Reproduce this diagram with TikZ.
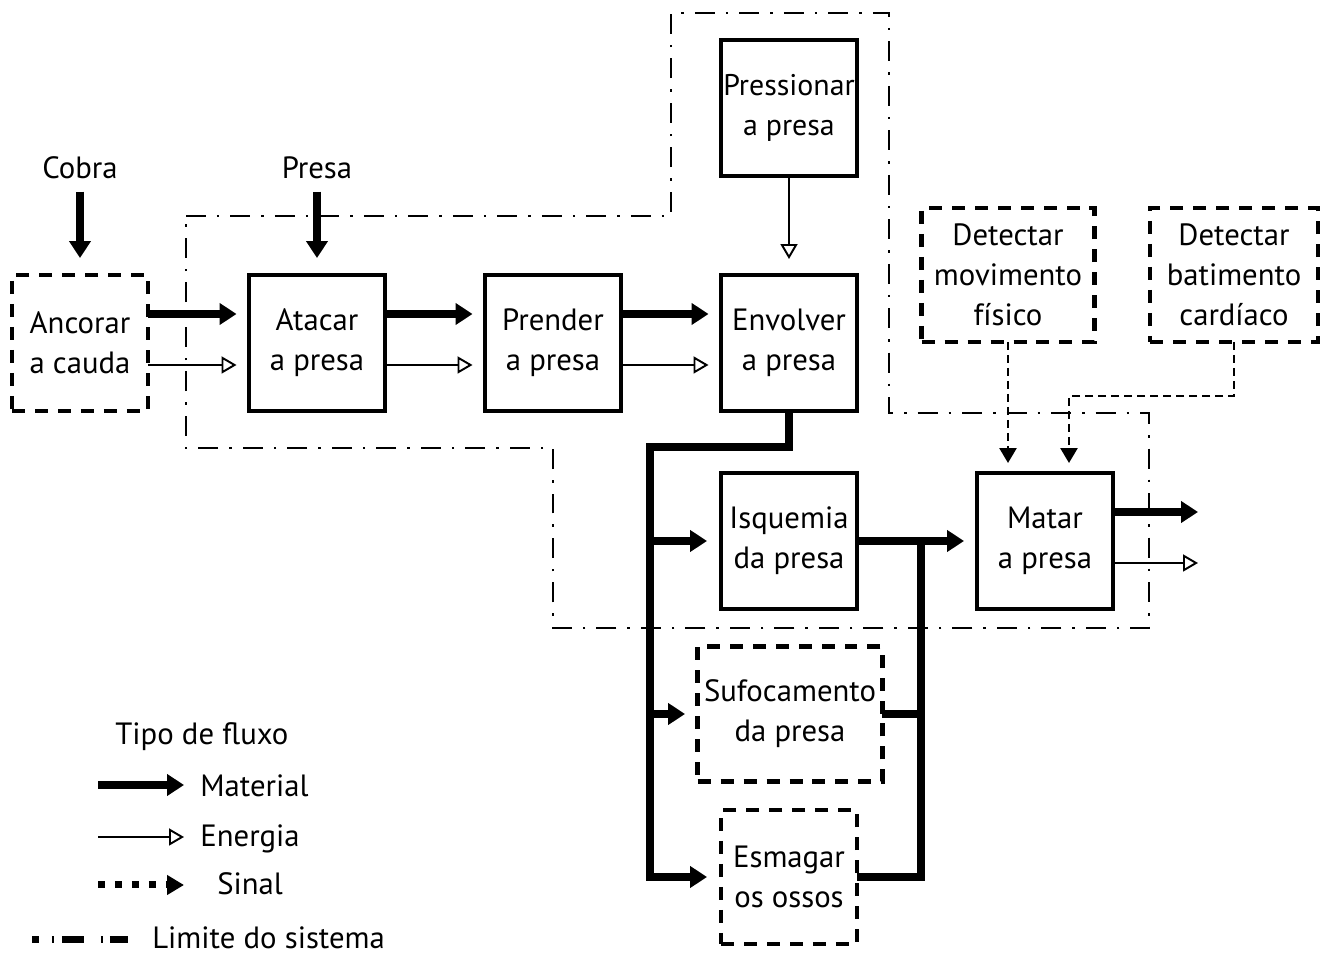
\documentclass[tikz,border=0pt]{standalone}
\usepackage{fontspec}
\setmainfont{PT Sans}
\usetikzlibrary{arrows.meta}

\begin{document}
\begin{tikzpicture}[x=0.02cm,y=-0.02cm, line join=miter,
  lbl/.style={font=\fontsize{17.5}{22.8}\selectfont, align=center, inner sep=0pt},
  fbox/.style={lbl, draw, line width=2.8pt, minimum width=2.72cm, minimum height=2.72cm, outer sep=0pt},
  dbox/.style={fbox, dash pattern=on 0.26cm off 0.2cm},
  mat/.style={line width=4.3pt, -{Triangle[length=0.34cm,width=0.42cm]}},
  matl/.style={line width=4.3pt},
  ene/.style={line width=1.1pt, -{Triangle[open,length=0.3cm,width=0.34cm]}},
  sig/.style={line width=1.5pt, dash pattern=on 0.16cm off 0.1cm, -{Triangle[length=0.3cm,width=0.34cm]}},
  lim/.style={line width=1.5pt, dash pattern=on 0.4cm off 0.22cm on 0.05cm off 0.22cm},
]
\useasboundingbox (0,0) rectangle (1323,955);

% system boundary
\draw[lim] (186,216) -- (671,216) -- (671,13) -- (889,13) -- (889,413) -- (1149,413)
  -- (1149,628) -- (553,628) -- (553,448) -- (186,448) -- cycle;

% functions
\node[dbox] (anc) at (80,343) {Ancorar\\a cauda};
\node[fbox] (ata) at (317,343) {Atacar\\a presa};
\node[fbox] (pre) at (553,343) {Prender\\a presa};
\node[fbox] (env) at (789,343) {Envolver\\a presa};
\node[fbox, font=\fontsize{17}{22.8}\selectfont] (prs) at (789,108) {Pressionar\\a presa};
\node[fbox] (isq) at (789,541) {Isquemia\\da presa};
\node[fbox] (mat) at (1045,541) {Matar\\a presa};
\node[dbox, minimum width=3.46cm, minimum height=2.68cm] (dmo) at (1008,275) {Detectar\\movimento\\físico};
\node[dbox, minimum width=3.36cm, minimum height=2.68cm] (dba) at (1234,275) {Detectar\\batimento\\cardíaco};
\node[dbox, minimum width=3.7cm, minimum height=2.7cm] (suf) at (790,714) {Sufocamento\\da presa};
\node[dbox, minimum height=2.68cm] (esm) at (789,877) {Esmagar\\os ossos};

% inputs
\node[lbl, anchor=base] (cob) at (80,179) {Cobra};
\node[lbl, anchor=base] (prl) at (317,179) {Presa};
\draw[mat, shorten <=0.24cm, shorten >=0.34cm] (cob.south) -- (anc.north);
\draw[mat, shorten <=0.24cm, shorten >=0.34cm] (prl.south) -- (ata.north);

% main chain
\draw[mat, shorten >=0.25cm] ([yshift=0.58cm]anc.east) -- ([yshift=0.58cm]ata.west);
\draw[ene, shorten >=0.25cm] ([yshift=-0.44cm]anc.east) -- ([yshift=-0.44cm]ata.west);
\draw[mat, shorten >=0.25cm] ([yshift=0.58cm]ata.east) -- ([yshift=0.58cm]pre.west);
\draw[ene, shorten >=0.25cm] ([yshift=-0.44cm]ata.east) -- ([yshift=-0.44cm]pre.west);
\draw[mat, shorten >=0.25cm] ([yshift=0.58cm]pre.east) -- ([yshift=0.58cm]env.west);
\draw[ene, shorten >=0.25cm] ([yshift=-0.44cm]pre.east) -- ([yshift=-0.44cm]env.west);
\draw[ene, shorten >=0.32cm] (prs.south) -- (env.north);

% branches after Envolver
\coordinate (bl) at (650,447);
\draw[mat, shorten >=0.28cm] (env.south) |- (bl) -- (bl |- esm.west) -- (esm.west);
\draw[mat, shorten >=0.28cm] (bl |- isq.west) -- (isq.west);
\draw[mat, shorten >=0.25cm] (bl |- suf.west) -- (suf.west);

% merge into Matar
\coordinate (br) at (921,541);
\draw[matl] (suf.east) -- (suf.east -| br);
\draw[matl] (esm.east) -| (br);
\draw[mat, shorten >=0.26cm] (isq.east) -- (mat.west);

% signals
\draw[sig, shorten >=0.2cm] (dmo.south) -- (dmo.south |- mat.north);
\coordinate (sc) at (1069,396);
\draw[sig, shorten >=0.2cm] (dba.south) |- (sc) -- (sc |- mat.north);

% outputs
\coordinate (o1) at (1198,512);
\coordinate (o2) at (1198,563);
\draw[mat] ([yshift=0.58cm]mat.east) -- (o1);
\draw[ene] ([yshift=-0.44cm]mat.east) -- (o2);

% legend
\node[lbl, anchor=base west] (leg) at (115,745) {Tipo de fluxo};
\coordinate (lm0) at (98,785); \coordinate (lm1) at (184,785);
\draw[mat] (lm0) -- (lm1);
\node[lbl, anchor=base west] (lgm) at (200,797) {Material};
\coordinate (le0) at (98,837); \coordinate (le1) at (184,837);
\draw[ene] (le0) -- (le1);
\node[lbl, anchor=base west] (lge) at (200,847) {Energia};
\coordinate (ls0) at (98,885); \coordinate (ls1) at (184,885);
\draw[line width=0.14cm, dash pattern=on 0.14cm off 0.2cm, -{Triangle[length=0.34cm,width=0.38cm]}] (ls0) -- (ls1);
\node[lbl, anchor=base west] (lgs) at (217,895) {Sinal};
\coordinate (ll0) at (32,940); \coordinate (ll1) at (128,940);
\draw[line width=0.14cm, dash pattern=on 0.14cm off 0.26cm on 0.04cm off 0.16cm on 0.44cm off 0.34cm on 0.04cm off 0.14cm on 0.36cm off 1cm] (ll0) -- (ll1);
\node[lbl, anchor=base west] (lgl) at (152,949) {Limite do sistema};
\end{tikzpicture}
\end{document}
